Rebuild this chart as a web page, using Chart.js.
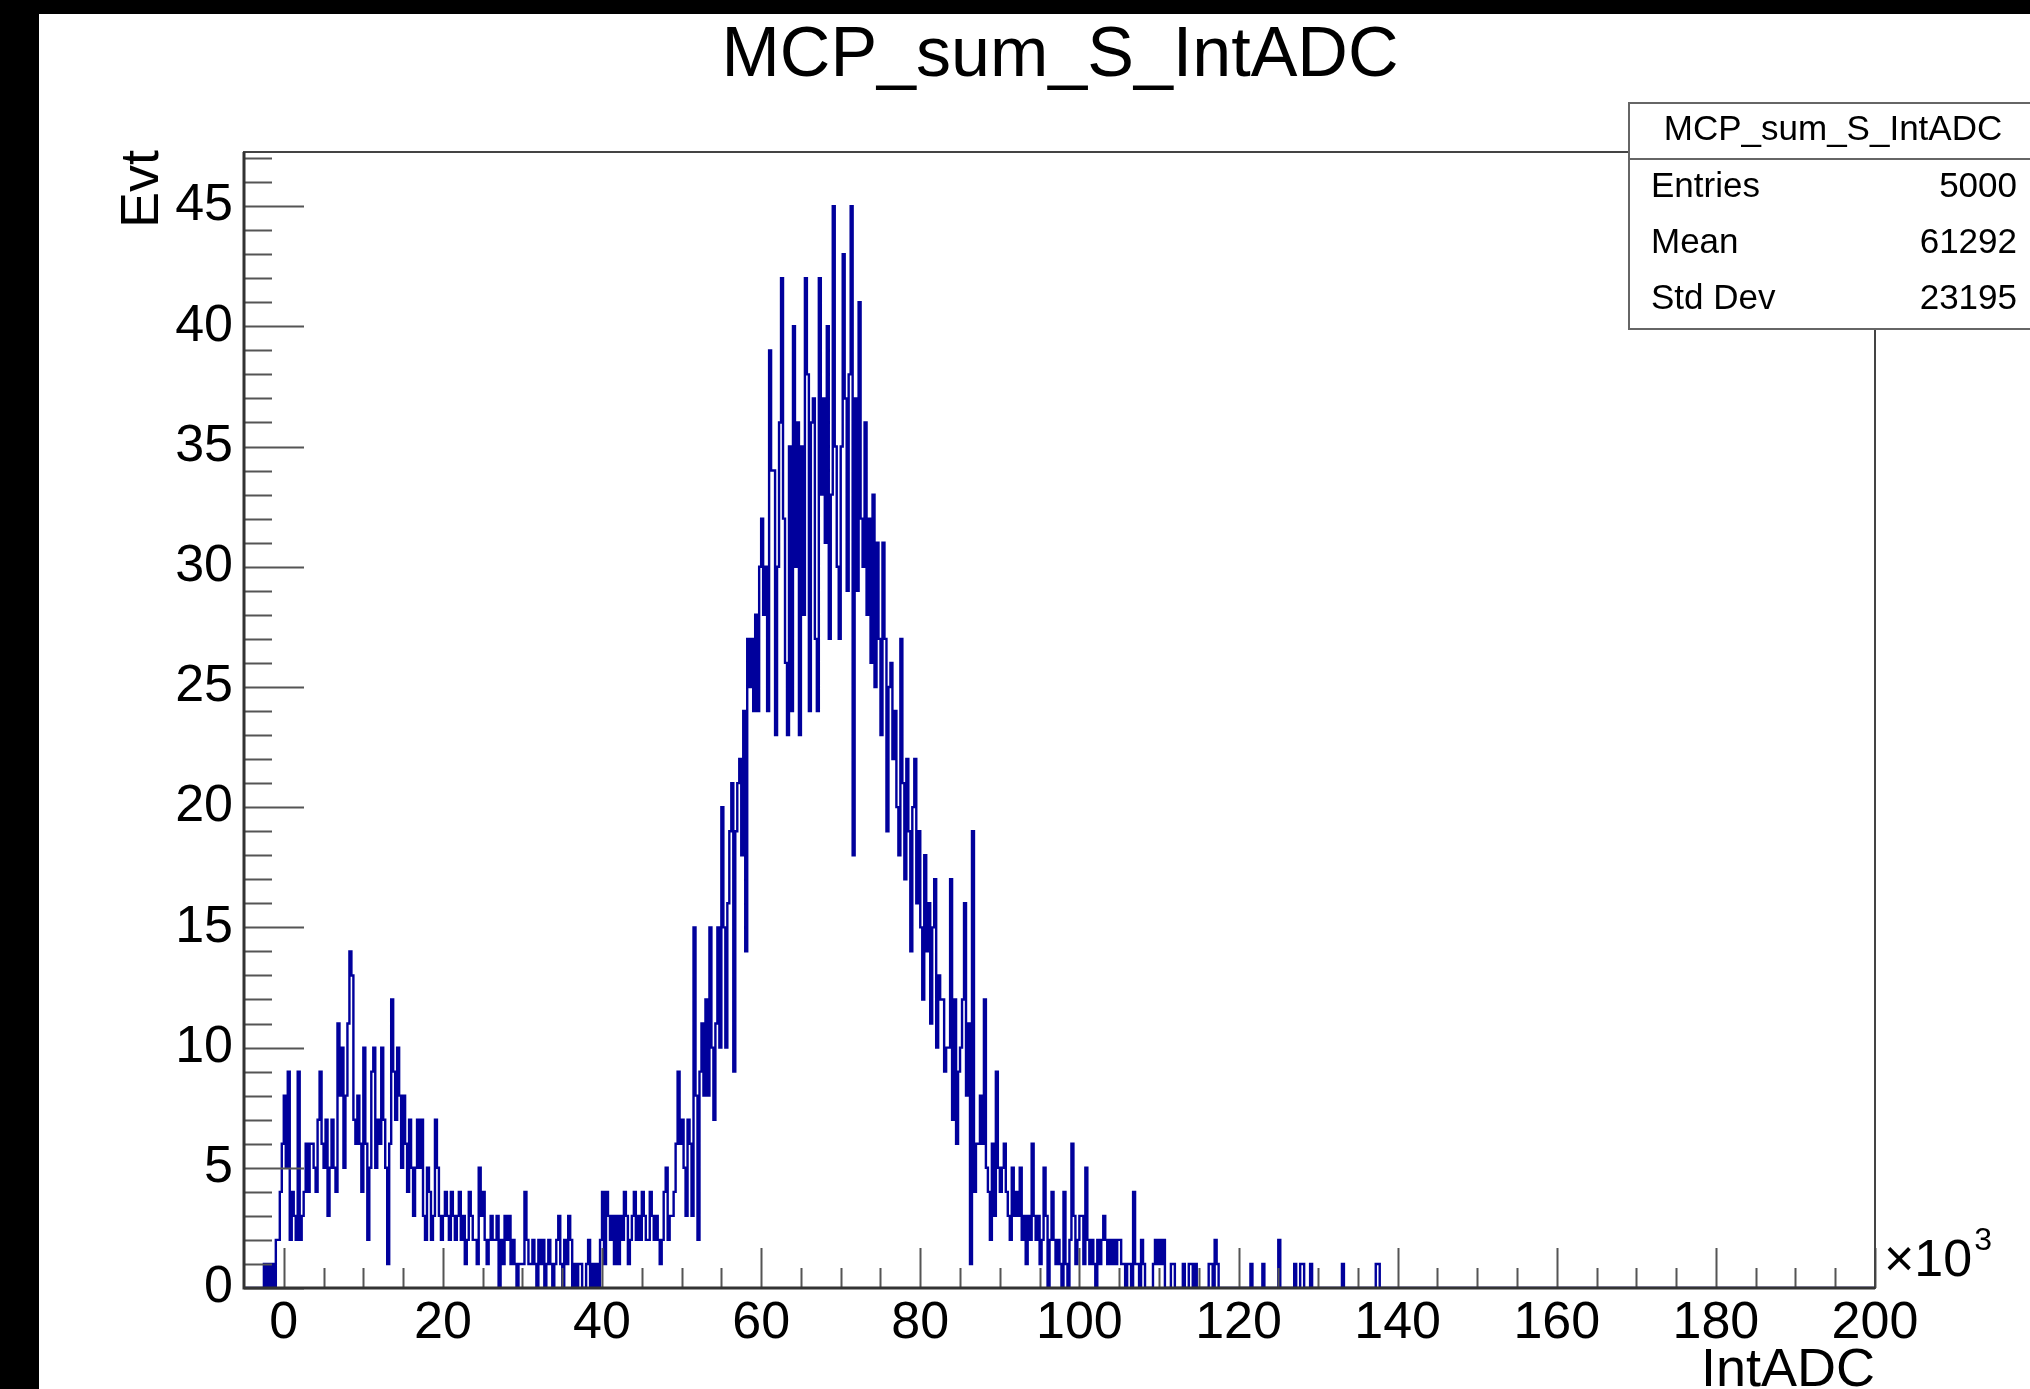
<!DOCTYPE html>
<html>
<head>
<meta charset="utf-8">
<script src="https://cdn.jsdelivr.net/npm/chart.js@4.4.1/dist/chart.umd.min.js"></script>
<style>
  html, body { margin: 0; padding: 0; background: #000; overflow: hidden; }
  #wrap { position: absolute; left: 39px; top: 14px; width: 1991px; height: 1375px; background: #fff; }
</style>
</head>
<body>
<div id="wrap"><canvas id="hist" width="1991" height="1375"></canvas></div>
<script>
// histogram MCP_sum_S_IntADC, IntADC in units of 10^3, bin width 0.25 (x10^3)
const binWidth = 0.25
const xMin = -5
const xMax = 200

// low peak, bins starting at -2.5
const lowPeakStart = -2.5
const lowPeak = [
  1, 0, 1, 0, 1, 0, 2, 2, 4, 6,
  8, 5, 9, 2, 4, 3, 2, 9, 2, 3,
  4, 6, 4, 6, 6, 5, 4, 7, 9, 6,
  5, 7, 3, 5, 7, 5, 4, 11, 8, 10,
  5, 8, 11, 14, 13, 7, 6, 8, 6, 4,
  10, 6, 2, 5, 9, 10, 5, 7, 6, 10,
  7, 5, 1, 6, 12, 9, 7, 10, 8, 5,
  8, 6, 4, 7, 5, 3, 5, 7, 5, 7,
  3, 2, 5, 4, 2, 3, 7, 5, 3, 2,
  3, 4, 3, 2, 4, 3, 2, 3, 4, 2,
  3, 1, 2, 4, 3, 2, 2, 1, 5, 3
]

// valley, bins starting at 25
const valleyStart = 25
const valley = [
  4, 2, 1, 2, 3, 2, 2, 3, 0, 2,
  1, 3, 2, 3, 1, 2, 1, 0, 1, 1,
  1, 4, 2, 1, 1, 2, 1, 0, 2, 1,
  2, 0, 1, 2, 1, 0, 1, 2, 3, 1,
  0, 2, 1, 3, 2, 0, 1, 0, 1, 1,
  0, 0, 1, 2, 0, 1, 0, 1, 0, 2,
  4, 1, 4, 3, 2, 3, 1, 3, 1, 3,
  2, 4, 3, 1, 2, 3, 4, 2, 3, 2,
  4, 3, 2, 2, 4, 3, 2, 3, 2, 1,
  2, 4, 5, 2, 3, 3, 4, 6, 9, 6
]

// rising edge and main peak, bins starting at 50
const mainPeakStart = 50
const mainPeak = [
  7, 5, 3, 7, 6, 3, 15, 8, 2, 9,
  11, 8, 12, 8, 15, 10, 7, 11, 15, 10,
  20, 15, 10, 16, 19, 21, 9, 19, 21, 22,
  18, 24, 14, 27, 25, 27, 24, 28, 24, 30,
  32, 28, 30, 24, 39, 34, 34, 23, 30, 36,
  42, 32, 26, 23, 35, 24, 40, 30, 36, 23,
  35, 28, 42, 38, 24, 36, 37, 27, 24, 42,
  33, 37, 31, 40, 27, 33, 45, 35, 30, 27,
  35, 43, 37, 29, 38, 45, 18, 37, 29, 41,
  32, 30, 36, 28, 32, 26, 33, 25, 31, 27
]

// falling edge, bins starting at 75
const fallStart = 75
const fall = [
  23, 31, 27, 19, 25, 26, 22, 24, 20, 18,
  27, 21, 17, 22, 19, 14, 20, 22, 16, 19,
  15, 12, 18, 14, 16, 11, 15, 17, 10, 13,
  12, 12, 9, 10, 10, 17, 7, 12, 6, 9,
  10, 12, 16, 8, 11, 1, 19, 4, 6, 6,
  8, 6, 12, 5, 4, 2, 6, 3, 9, 5,
  4, 5, 6, 4, 3, 2, 5, 3, 4, 3,
  5, 2, 3, 1, 3, 2, 6, 3, 2, 3,
  1, 2, 5, 3, 0, 2, 4, 2, 1, 2,
  1, 0, 4, 1, 0, 2, 6, 3, 1, 2
]

// tail, bins starting at 100
const tailStart = 100
const tail = [
  3, 3, 1, 5, 2, 1, 2, 1, 0, 2,
  1, 2, 3, 2, 1, 2, 1, 2, 1, 2,
  2, 1, 1, 0, 1, 1, 0, 4, 1, 1,
  0, 2, 1, 0, 0, 0, 0, 1, 2, 1,
  2, 1, 2, 0, 0, 0, 1, 1, 0, 0,
  0, 0, 1, 0, 0, 1, 1, 0, 1, 0,
  0, 0, 0, 0, 0, 1, 1, 0, 2, 1
]

// isolated far-tail entries (bin start, count)
const strayBins = [121.5, 123, 125, 127, 127.75, 128, 129, 133, 137.25, 137.5]
const strayEvt = [1, 1, 2, 1, 1, 1, 1, 1, 1, 1]

const xTicks = [0, 20, 40, 60, 80, 100, 120, 140, 160, 180, 200]
const yTicks = [0, 5, 10, 15, 20, 25, 30, 35, 40, 45]
const yMax = 47.25

const stats = [['Entries', '5000'], ['Mean', '61292'], ['Std Dev', '23195']]

// fill the bin table
const nBins = Math.round((xMax - xMin) / binWidth)
const counts = new Array(nBins).fill(0)
function place(start, arr) {
  const i0 = Math.round((start - xMin) / binWidth)
  arr.forEach((v, i) => { counts[i0 + i] = v })
}
place(lowPeakStart, lowPeak)
place(valleyStart, valley)
place(mainPeakStart, mainPeak)
place(fallStart, fall)
place(tailStart, tail)
strayBins.forEach((b, i) => { counts[Math.round((b - xMin) / binWidth)] = strayEvt[i] })

const points = counts.map((c, i) => ({ x: xMin + i * binWidth, y: c }))
points.push({ x: xMax, y: 0 })

const FONT = "'Liberation Sans', Arial, Helvetica, sans-serif"

const rootStyle = {
  id: 'rootStyle',
  afterDatasetsDraw(chart) {
    const { ctx, chartArea: a, scales: { x, y } } = chart
    ctx.save()

    // ticks
    ctx.strokeStyle = '#555'
    ctx.lineWidth = 2
    ctx.beginPath()
    for (let v = 0; v <= xMax; v += 5) {
      const px = Math.round(x.getPixelForValue(v)) + 0.5
      const len = v % 20 === 0 ? 40 : 20
      ctx.moveTo(px, a.bottom)
      ctx.lineTo(px, a.bottom - len)
    }
    for (let v = 0; v <= yMax; v += 1) {
      const py = Math.round(y.getPixelForValue(v)) + 0.5
      const len = v % 5 === 0 ? 60 : 28
      ctx.moveTo(a.left, py)
      ctx.lineTo(a.left + len, py)
    }
    ctx.stroke()

    // frame
    ctx.strokeStyle = '#444'
    ctx.lineWidth = 2
    ctx.strokeRect(a.left, a.top, a.right - a.left, a.bottom - a.top)
    ctx.strokeStyle = '#333'
    ctx.lineWidth = 3
    ctx.beginPath()
    ctx.moveTo(a.left, a.top)
    ctx.lineTo(a.left, a.bottom)
    ctx.lineTo(a.right, a.bottom)
    ctx.stroke()

    // title
    ctx.fillStyle = '#000'
    ctx.font = `70px ${FONT}`
    ctx.textAlign = 'center'
    ctx.textBaseline = 'alphabetic'
    ctx.fillText('MCP_sum_S_IntADC', 1021, 62)

    // axis titles
    ctx.font = `54px ${FONT}`
    ctx.textAlign = 'right'
    ctx.fillText('IntADC', a.right, 1372)
    ctx.save()
    ctx.translate(119, a.top - 2)
    ctx.rotate(-Math.PI / 2)
    ctx.fillText('Evt', 0, 0)
    ctx.restore()

    // x10^3
    ctx.textAlign = 'left'
    ctx.font = `52px ${FONT}`
    ctx.fillText('\u00d710', a.right + 9, 1262)
    const w = ctx.measureText('\u00d710').width
    ctx.font = `32px ${FONT}`
    ctx.fillText('3', a.right + 11 + w, 1236)

    // stats box
    const bx = 1590, by = 89, bw = 420, bh = 226
    ctx.fillStyle = '#fff'
    ctx.fillRect(bx, by, bw, bh)
    ctx.strokeStyle = '#666'
    ctx.lineWidth = 2
    ctx.strokeRect(bx, by, bw, bh)
    ctx.beginPath()
    ctx.moveTo(bx, by + 56)
    ctx.lineTo(bx + bw, by + 56)
    ctx.stroke()
    ctx.fillStyle = '#000'
    ctx.font = `35px ${FONT}`
    ctx.textAlign = 'center'
    ctx.fillText('MCP_sum_S_IntADC', 1794, 126)
    stats.forEach(([k, v], i) => {
      const base = 183 + i * 56
      ctx.textAlign = 'left'
      ctx.fillText(k, 1612, base)
      ctx.textAlign = 'right'
      ctx.fillText(v, 1978, base)
    })
    ctx.restore()
  }
}

new Chart(document.getElementById('hist'), {
  type: 'line',
  data: {
    datasets: [{
      label: 'MCP_sum_S_IntADC',
      data: points,
      stepped: true,
      borderColor: '#00009c',
      borderWidth: 2.4,
      pointRadius: 0,
      fill: false,
      tension: 0
    }]
  },
  options: {
    responsive: false,
    animation: false,
    devicePixelRatio: 1,
    layout: { padding: { top: 138, right: 155, left: 0, bottom: 0 } },
    plugins: {
      legend: { display: false },
      title: { display: false },
      tooltip: { enabled: false }
    },
    scales: {
      x: {
        type: 'linear',
        min: xMin,
        max: xMax,
        afterBuildTicks: (s) => { s.ticks = xTicks.map(v => ({ value: v })) },
        afterFit: (s) => { s.height = 101 },
        grid: { display: false, drawTicks: false },
        border: { display: false },
        ticks: {
          autoSkip: false,
          maxRotation: 0,
          padding: 4,
          color: '#000',
          font: { family: FONT, size: 52 },
          callback: (v) => String(v)
        }
      },
      y: {
        min: 0,
        max: yMax,
        afterBuildTicks: (s) => { s.ticks = yTicks.map(v => ({ value: v })) },
        afterFit: (s) => { s.width = 205 },
        grid: { display: false, drawTicks: false },
        border: { display: false },
        ticks: {
          padding: 11,
          color: '#000',
          font: { family: FONT, size: 52 },
          callback: (v) => String(v)
        }
      }
    }
  },
  plugins: [rootStyle]
})
</script>
</body>
</html>
